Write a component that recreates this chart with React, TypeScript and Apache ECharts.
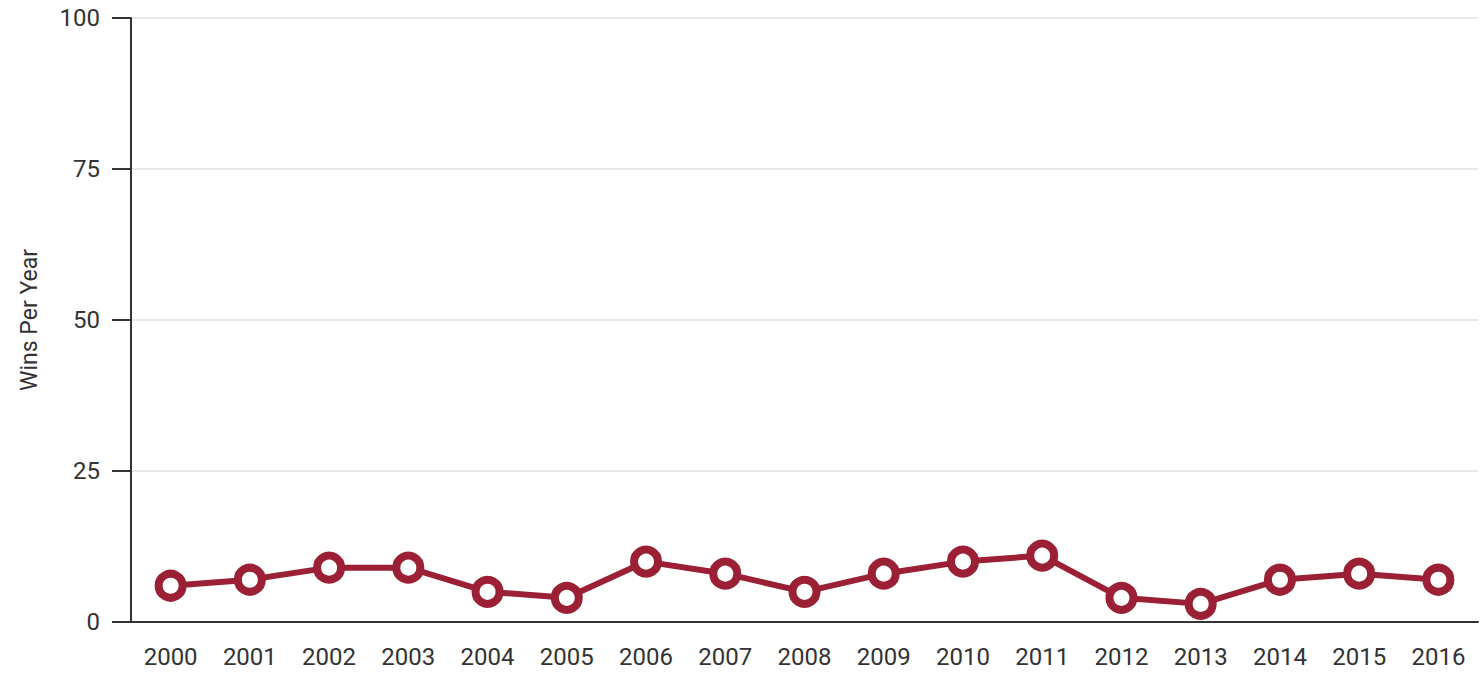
import React, { useEffect, useRef } from "react";
import * as echarts from "echarts";

const years = ["2000", "2001", "2002", "2003", "2004", "2005", "2006", "2007", "2008", "2009", "2010", "2011", "2012", "2013", "2014", "2015", "2016"];
const wins = [6, 7, 9, 9, 5, 4, 10, 8, 5, 8, 10, 11, 4, 3, 7, 8, 7];
const yTicks = [0, 25, 50, 75, 100];

export default function App() {
  const ref = useRef<HTMLDivElement>(null);
  useEffect(() => {
    const chart = echarts.init(ref.current!, null, { renderer: "svg" });
    const font = "Roboto, 'Noto Sans', sans-serif";
    chart.setOption({
      animation: false,
      grid: { left: 131, right: 3, top: 18, bottom: 51, containLabel: false },
      xAxis: {
        type: "category",
        data: years,
        boundaryGap: true,
        axisLine: { lineStyle: { color: "#333", width: 2 } },
        axisTick: { alignWithLabel: true, length: 19, lineStyle: { color: "#333", width: 2 } },
        axisLabel: { color: "#333", fontSize: 24, fontFamily: font, margin: 23 },
        splitLine: { show: false },
      },
      yAxis: {
        type: "value",
        min: yTicks[0],
        max: yTicks[yTicks.length - 1],
        interval: 25,
        name: "Wins Per Year",
        nameLocation: "middle",
        nameGap: 90,
        nameTextStyle: { color: "#333", fontSize: 23, fontFamily: font },
        axisLine: { show: true, lineStyle: { color: "#333", width: 2 } },
        axisTick: { show: true, length: 19, lineStyle: { color: "#333", width: 2 } },
        axisLabel: { color: "#333", fontSize: 24, fontFamily: font, margin: 31 },
        splitLine: { show: true, lineStyle: { color: "#e8e8e8", width: 2 } },
      },
      series: [
        {
          type: "line",
          data: wins,
          symbol: "circle",
          symbolSize: 24,
          showAllSymbol: true,
          lineStyle: { color: "#9b1f35", width: 6 },
          itemStyle: { color: "#ffffff", borderColor: "#9b1f35", borderWidth: 8 },
          z: 3,
        },
      ],
    });
    return () => chart.dispose();
  }, []);
  return <div ref={ref} style={{ width: 1481, height: 673, position: "absolute", left: 0, top: 0 }} />;
}
